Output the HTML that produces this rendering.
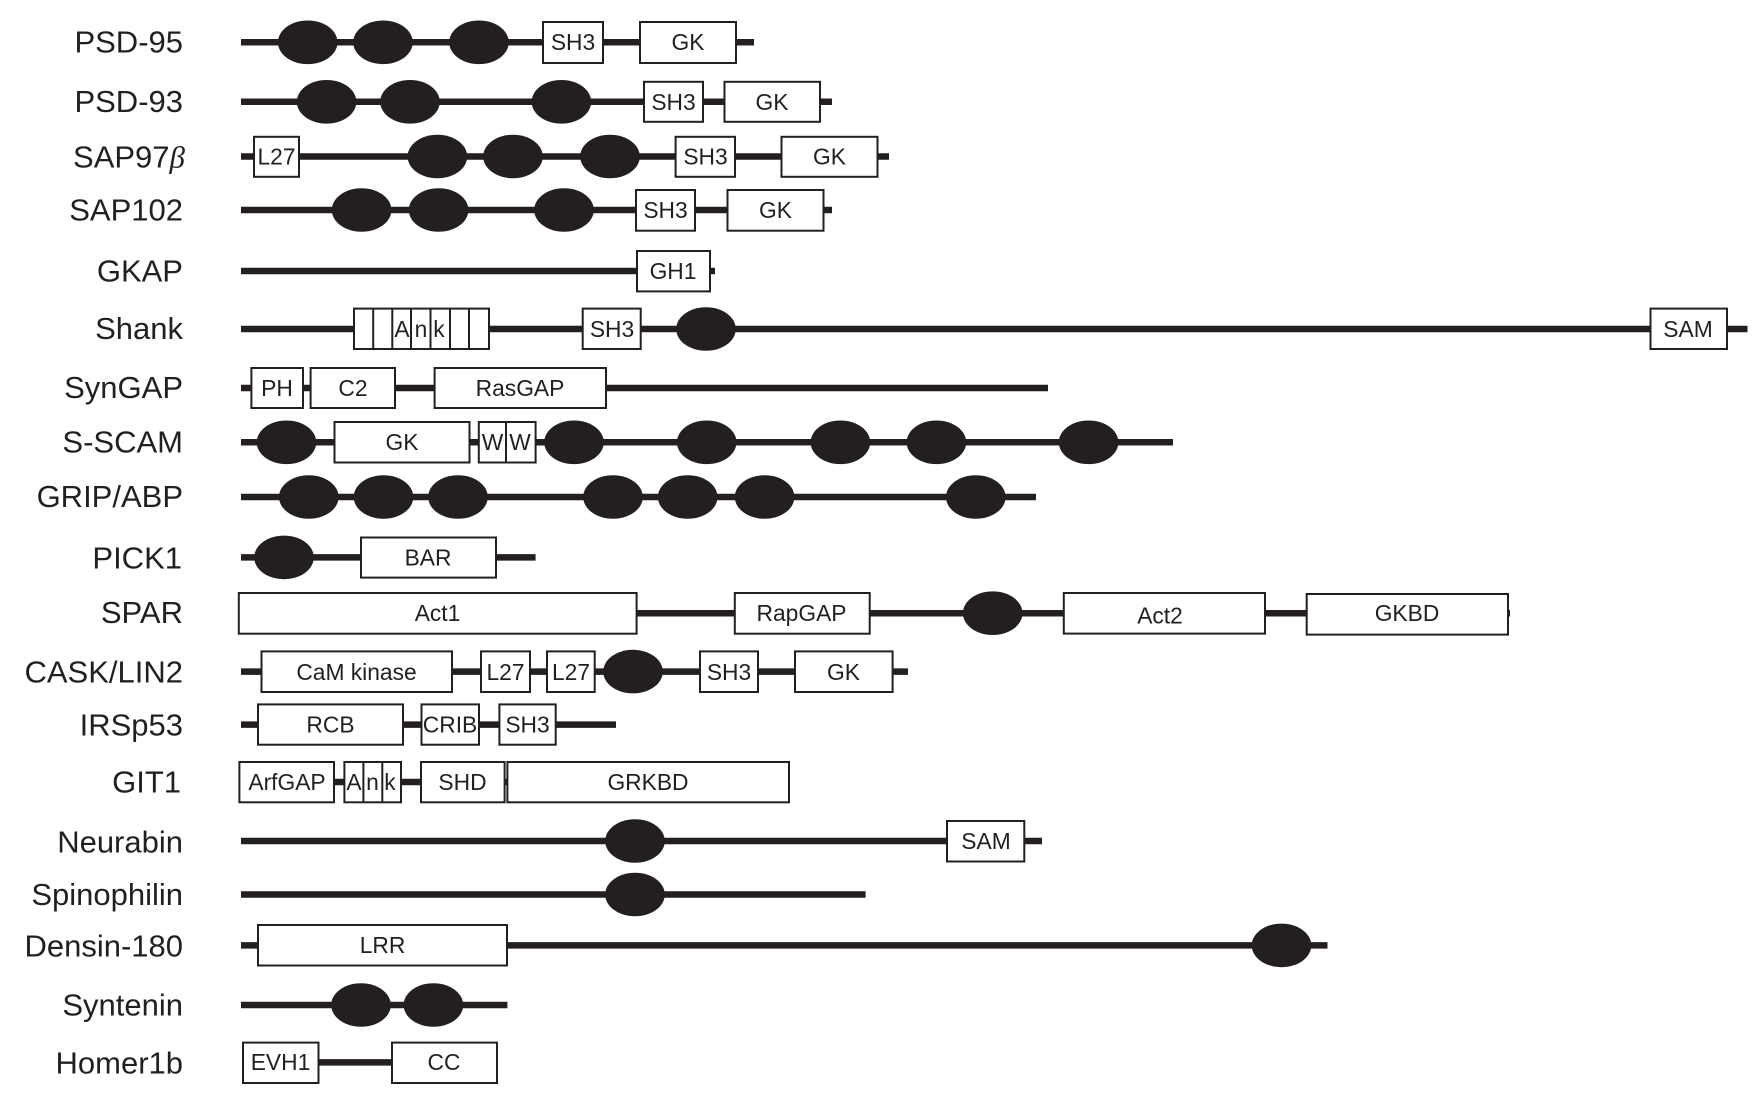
<!DOCTYPE html>
<html><head><meta charset="utf-8"><style>
html,body{margin:0;padding:0;background:#fff}
svg{display:block}
text{font-family:"Liberation Sans",sans-serif;fill:#231f20}
.l{font-size:31px;text-anchor:end}
.b{font-size:22.8px;text-anchor:middle}
.ln{stroke:#231f20;stroke-width:6.5}
rect{fill:#fff;stroke:#231f20;stroke-width:2}
ellipse{fill:#231f20}
.d{stroke:#231f20;stroke-width:2}
</style></head><body>
<svg width="1764" height="1104" viewBox="0 0 1764 1104" xmlns="http://www.w3.org/2000/svg">
<rect x="-5" y="-5" width="1774" height="1114" style="fill:#fff;stroke:none"/>
<g>
<text class="l" x="183" y="52.5">PSD-95</text>
<text class="l" x="183" y="112">PSD-93</text>
<text class="l" x="185" y="167.5">SAP97<tspan style="font-family:'Liberation Serif',serif;font-style:italic">β</tspan></text>
<text class="l" x="183" y="220.5">SAP102</text>
<text class="l" x="183" y="281.5">GKAP</text>
<text class="l" x="183" y="339">Shank</text>
<text class="l" x="183" y="398">SynGAP</text>
<text class="l" x="183" y="452.5">S-SCAM</text>
<text class="l" x="183" y="507">GRIP/ABP</text>
<text class="l" x="182" y="568.5">PICK1</text>
<text class="l" x="183" y="623">SPAR</text>
<text class="l" x="183" y="682.5">CASK/LIN2</text>
<text class="l" x="183" y="735.5">IRSp53</text>
<text class="l" x="181" y="792.4">GIT1</text>
<text class="l" x="183" y="852.5">Neurabin</text>
<text class="l" x="183" y="905">Spinophilin</text>
<text class="l" x="183" y="956.4">Densin-180</text>
<text class="l" x="183" y="1015.7">Syntenin</text>
<text class="l" x="183" y="1073.6">Homer1b</text>
</g>

<!-- PSD-95 -->
<line class="ln" x1="241" y1="42.3" x2="754" y2="42.3"/>
<ellipse cx="307.7" cy="42.3" rx="29.8" ry="21.8"/><ellipse cx="383" cy="42.3" rx="29.8" ry="21.8"/><ellipse cx="479" cy="42.3" rx="29.8" ry="21.8"/>
<rect x="543" y="22" width="60" height="41"/><text class="b" x="573" y="50">SH3</text>
<rect x="640" y="22" width="96" height="41"/><text class="b" x="688" y="50">GK</text>

<!-- PSD-93 -->
<line class="ln" x1="241" y1="101.8" x2="832" y2="101.8"/>
<ellipse cx="326.6" cy="101.8" rx="29.8" ry="21.8"/><ellipse cx="410" cy="101.8" rx="29.8" ry="21.8"/><ellipse cx="561.4" cy="101.8" rx="29.8" ry="21.8"/>
<rect x="644" y="81.8" width="59" height="40"/><text class="b" x="673.5" y="110">SH3</text>
<rect x="724.5" y="81.8" width="95.5" height="40"/><text class="b" x="772" y="110">GK</text>

<!-- SAP97 -->
<line class="ln" x1="241" y1="156.5" x2="889" y2="156.5"/>
<rect x="254" y="136.8" width="45" height="40"/><text class="b" x="276.5" y="164.5">L27</text>
<ellipse cx="437.4" cy="156.5" rx="29.8" ry="21.8"/><ellipse cx="513" cy="156.5" rx="29.8" ry="21.8"/><ellipse cx="610" cy="156.5" rx="29.8" ry="21.8"/>
<rect x="675.6" y="136.8" width="59.4" height="40"/><text class="b" x="705.5" y="164.5">SH3</text>
<rect x="781.5" y="136.8" width="96" height="40"/><text class="b" x="829.5" y="164.5">GK</text>

<!-- SAP102 -->
<line class="ln" x1="241" y1="210" x2="832" y2="210"/>
<ellipse cx="361.6" cy="210" rx="29.8" ry="21.8"/><ellipse cx="438.6" cy="210" rx="29.8" ry="21.8"/><ellipse cx="564" cy="210" rx="29.8" ry="21.8"/>
<rect x="636" y="190" width="59" height="40.7"/><text class="b" x="665.5" y="218">SH3</text>
<rect x="727.5" y="190" width="96" height="40.7"/><text class="b" x="775.5" y="218">GK</text>

<!-- GKAP -->
<line class="ln" x1="241" y1="271" x2="715" y2="271"/>
<rect x="637" y="251" width="73" height="40.4"/><text class="b" x="673" y="279">GH1</text>

<!-- Shank -->
<line class="ln" x1="241" y1="329" x2="1747.5" y2="329"/>
<rect x="354" y="308.6" width="135" height="40.4"/>
<line class="d" x1="373.2" y1="308.6" x2="373.2" y2="349"/><line class="d" x1="392.3" y1="308.6" x2="392.3" y2="349"/><line class="d" x1="411" y1="308.6" x2="411" y2="349"/><line class="d" x1="430.5" y1="308.6" x2="430.5" y2="349"/><line class="d" x1="450" y1="308.6" x2="450" y2="349"/><line class="d" x1="469" y1="308.6" x2="469" y2="349"/>
<text class="b" x="402" y="337">A</text><text class="b" x="421" y="337">n</text><text class="b" x="439" y="337">k</text>
<rect x="582.7" y="308.6" width="58" height="40.4"/><text class="b" x="612" y="337">SH3</text>
<ellipse cx="706" cy="329" rx="29.8" ry="21.8"/>
<rect x="1650.5" y="308.6" width="76.5" height="40.4"/><text class="b" x="1688" y="337">SAM</text>

<!-- SynGAP -->
<line class="ln" x1="241" y1="388" x2="1048" y2="388"/>
<rect x="251.4" y="368" width="51.6" height="40"/><text class="b" x="277" y="396">PH</text>
<rect x="310.6" y="368" width="84.4" height="40"/><text class="b" x="353" y="396">C2</text>
<rect x="434.6" y="368" width="171.4" height="40"/><text class="b" x="520" y="396">RasGAP</text>

<!-- S-SCAM -->
<line class="ln" x1="241" y1="442.3" x2="1173" y2="442.3"/>
<ellipse cx="286.5" cy="442.3" rx="29.8" ry="21.8"/>
<rect x="334.5" y="422" width="135" height="40.5"/><text class="b" x="402" y="450">GK</text>
<rect x="478.8" y="422" width="56.8" height="40.5"/><line class="d" x1="506" y1="422" x2="506" y2="462.5"/>
<text class="b" x="492.5" y="450">W</text><text class="b" x="520" y="450">W</text>
<ellipse cx="574" cy="442.3" rx="29.8" ry="21.8"/><ellipse cx="706.7" cy="442.3" rx="29.8" ry="21.8"/><ellipse cx="840.4" cy="442.3" rx="29.8" ry="21.8"/><ellipse cx="936.4" cy="442.3" rx="29.8" ry="21.8"/><ellipse cx="1088.6" cy="442.3" rx="29.8" ry="21.8"/>

<!-- GRIP/ABP -->
<line class="ln" x1="241" y1="497" x2="1036" y2="497"/>
<ellipse cx="308.8" cy="497" rx="29.8" ry="21.8"/><ellipse cx="383.5" cy="497" rx="29.8" ry="21.8"/><ellipse cx="458" cy="497" rx="29.8" ry="21.8"/><ellipse cx="613" cy="497" rx="29.8" ry="21.8"/><ellipse cx="687.7" cy="497" rx="29.8" ry="21.8"/><ellipse cx="764.6" cy="497" rx="29.8" ry="21.8"/><ellipse cx="975.8" cy="497" rx="29.8" ry="21.8"/>

<!-- PICK1 -->
<line class="ln" x1="241" y1="557.4" x2="535.6" y2="557.4"/>
<ellipse cx="284" cy="557.4" rx="29.8" ry="21.8"/>
<rect x="361" y="537.5" width="135" height="40.1"/><text class="b" x="428" y="565.5">BAR</text>

<!-- SPAR -->
<line class="ln" x1="241" y1="613.2" x2="1510" y2="613.2"/>
<rect x="238.8" y="593" width="397.8" height="40.7"/><text class="b" x="437.5" y="621">Act1</text>
<rect x="734.8" y="593" width="134.9" height="40.7"/><text class="b" x="801.5" y="621">RapGAP</text>
<ellipse cx="992.7" cy="613.2" rx="29.8" ry="21.8"/>
<rect x="1063.8" y="593" width="201.2" height="40.6"/><text class="b" x="1160" y="623.6">Act2</text>
<rect x="1306.7" y="594" width="201.3" height="40.6"/><text class="b" x="1407" y="621">GKBD</text>

<!-- CASK -->
<line class="ln" x1="241" y1="671.6" x2="908" y2="671.6"/>
<rect x="261.5" y="651.4" width="190.5" height="40.6"/><text class="b" x="356.5" y="680">CaM kinase</text>
<rect x="481" y="651.4" width="49" height="40.6"/><text class="b" x="505.5" y="680">L27</text>
<rect x="547" y="651.4" width="47.7" height="40.6"/><text class="b" x="571" y="680">L27</text>
<ellipse cx="633" cy="671.6" rx="29.8" ry="21.8"/>
<rect x="700" y="651.4" width="58" height="40.6"/><text class="b" x="729" y="680">SH3</text>
<rect x="795" y="651.4" width="97.6" height="40.6"/><text class="b" x="843.5" y="680">GK</text>

<!-- IRSp53 -->
<line class="ln" x1="241" y1="724.6" x2="616" y2="724.6"/>
<rect x="258" y="704.4" width="145" height="40.3"/><text class="b" x="330.5" y="732.5">RCB</text>
<rect x="421.5" y="704.4" width="57.5" height="40.3"/><text class="b" x="450" y="732.5">CRIB</text>
<rect x="499.4" y="704.4" width="56.3" height="40.3"/><text class="b" x="527.5" y="732.5">SH3</text>

<!-- GIT1 -->
<line class="ln" x1="241" y1="782" x2="789" y2="782"/>
<rect x="239.4" y="762" width="94.6" height="40.3"/><text class="b" x="287" y="790">ArfGAP</text>
<rect x="344.4" y="762" width="56.6" height="40.3"/><line class="d" x1="363.4" y1="762" x2="363.4" y2="802.3"/><line class="d" x1="382.3" y1="762" x2="382.3" y2="802.3"/>
<text class="b" x="354" y="790">A</text><text class="b" x="372.5" y="790">n</text><text class="b" x="390" y="790">k</text>
<rect x="421" y="762" width="83.6" height="40.3"/><text class="b" x="462.5" y="790">SHD</text>
<rect x="507.4" y="762" width="281.6" height="40.3"/><text class="b" x="648" y="790">GRKBD</text>

<!-- Neurabin -->
<line class="ln" x1="241" y1="841" x2="1042" y2="841"/>
<ellipse cx="635" cy="841" rx="29.8" ry="21.8"/>
<rect x="947" y="821" width="77.3" height="40.5"/><text class="b" x="986" y="849">SAM</text>

<!-- Spinophilin -->
<line class="ln" x1="241" y1="894.5" x2="865.6" y2="894.5"/>
<ellipse cx="635" cy="894.5" rx="29.8" ry="21.8"/>

<!-- Densin-180 -->
<line class="ln" x1="241" y1="945.4" x2="1327.5" y2="945.4"/>
<rect x="258" y="925" width="249" height="40.5"/><text class="b" x="382.5" y="953">LRR</text>
<ellipse cx="1281.5" cy="945.4" rx="29.8" ry="21.8"/>

<!-- Syntenin -->
<line class="ln" x1="241" y1="1005" x2="507.4" y2="1005"/>
<ellipse cx="361" cy="1005" rx="29.8" ry="21.8"/><ellipse cx="433.4" cy="1005" rx="29.8" ry="21.8"/>

<!-- Homer1b -->
<line class="ln" x1="318" y1="1062.4" x2="392" y2="1062.4"/>
<rect x="243" y="1042.6" width="75.5" height="40.4"/><text class="b" x="280.5" y="1070">EVH1</text>
<rect x="392" y="1042.6" width="105" height="40.4"/><text class="b" x="444" y="1070">CC</text>
</svg>
</body></html>
